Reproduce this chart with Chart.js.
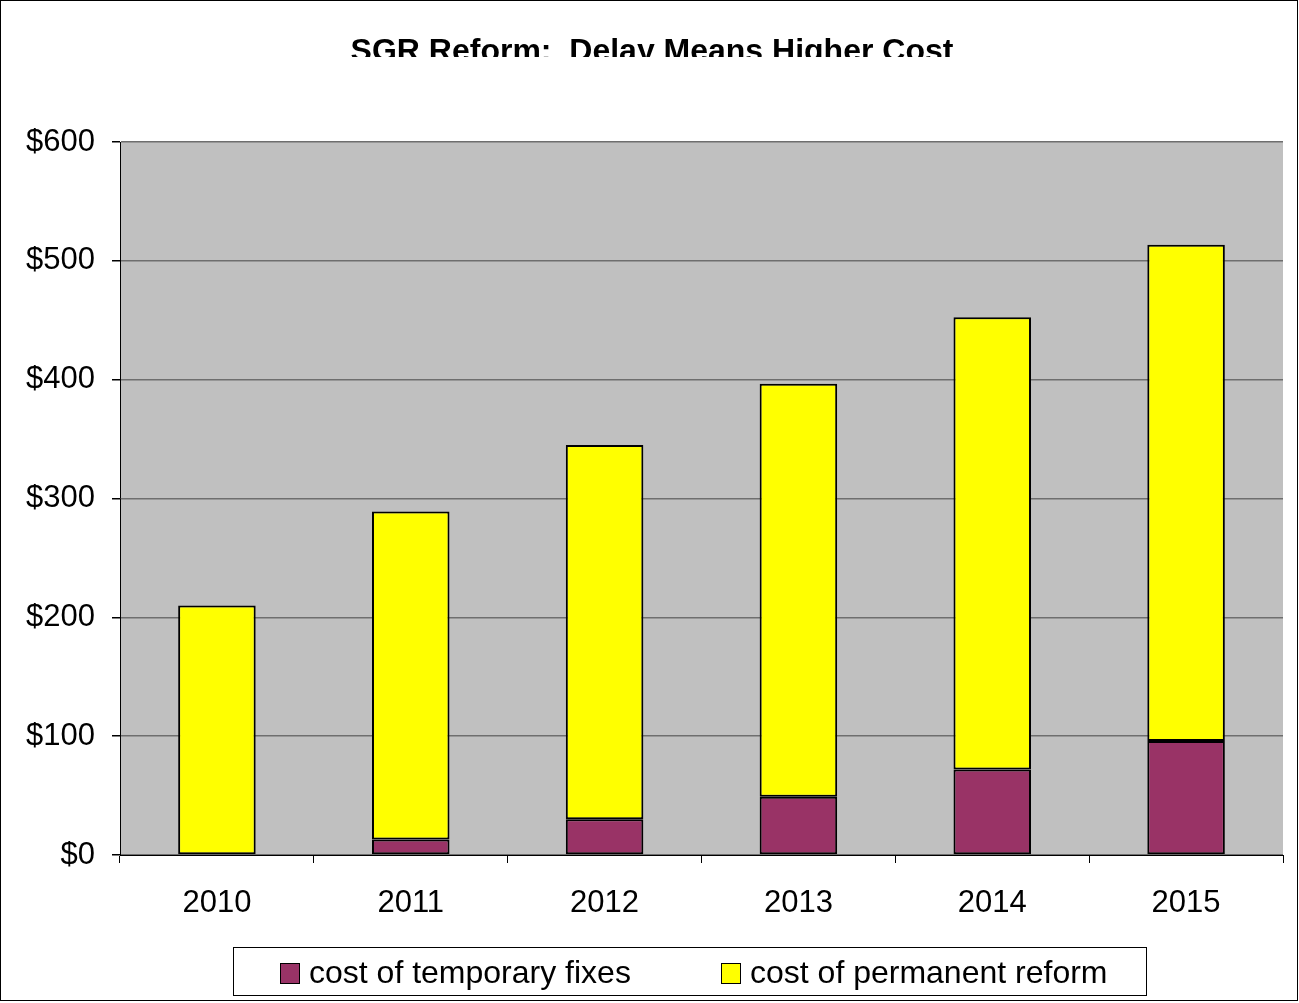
<!DOCTYPE html>
<html>
<head>
<meta charset="utf-8">
<script src="https://cdn.jsdelivr.net/npm/chart.js@4"></script>
<style>
  html, body { margin: 0; padding: 0; background: #fff; }
  #wrap { width: 1299px; height: 1003px; position: relative; }
</style>
</head>
<body>
<div id="wrap"><canvas id="myChart" width="1299" height="1003"></canvas></div>
<script>
const years = ["2010", "2011", "2012", "2013", "2014", "2015"];
const temporaryFixes = [0, 13, 30, 49, 72, 96];
const permanentReform = [210, 276, 315, 347.5, 380.5, 417.5];
const yTicks = [0, 100, 200, 300, 400, 500, 600];
const titleText = "SGR Reform:  Delay Means Higher Cost";

const FONT = "'Liberation Sans', Arial, sans-serif";

// grey plot area, clipped title, outer frame and boxed legend
const decorPlugin = {
  id: "decor",
  beforeDraw(chart) {
    const { ctx, chartArea } = chart;
    ctx.save();
    ctx.fillStyle = "#c0c0c0";
    ctx.fillRect(chartArea.left, chartArea.top, chartArea.right - chartArea.left, chartArea.bottom - chartArea.top);
    ctx.restore();
  },
  afterDraw(chart) {
    const ctx = chart.ctx;
    ctx.save();
    // title, cut off at the bottom like the original
    ctx.beginPath();
    ctx.rect(0, 0, chart.width, 57);
    ctx.clip();
    ctx.fillStyle = "#000";
    ctx.font = "bold 32px " + FONT;
    ctx.textAlign = "center";
    ctx.textBaseline = "alphabetic";
    ctx.fillText(titleText, 652, 61);
    ctx.restore();

    ctx.save();
    ctx.strokeStyle = "#000";
    ctx.lineWidth = 1;
    ctx.strokeRect(0.5, 0.5, 1297, 1000);

    // legend
    ctx.strokeRect(233.5, 947.5, 913, 48);
    const itemX = [280, 721];
    ctx.font = "32px " + FONT;
    ctx.textBaseline = "middle";
    ctx.textAlign = "left";
    chart.data.datasets.forEach((ds, i) => {
      ctx.fillStyle = ds.backgroundColor;
      ctx.fillRect(itemX[i], 963, 19, 20);
      ctx.strokeStyle = "#000";
      ctx.strokeRect(itemX[i] + 0.5, 963.5, 19, 20);
      ctx.fillStyle = "#000";
      ctx.fillText(ds.label, itemX[i] + 29, 974);
    });
    ctx.restore();
  },
};

const ctx = document.getElementById("myChart").getContext("2d");

const myChart = new Chart(ctx, {
  type: "bar",
  data: {
    labels: years,
    datasets: [
      {
        label: "cost of temporary fixes",
        data: temporaryFixes,
        backgroundColor: "#993366",
        borderColor: "#000",
        borderWidth: 2,
        borderSkipped: false,
        barPercentage: 0.4,
        categoryPercentage: 1,
      },
      {
        label: "cost of permanent reform",
        data: permanentReform,
        backgroundColor: "#ffff00",
        borderColor: "#000",
        borderWidth: 2,
        borderSkipped: false,
        barPercentage: 0.4,
        categoryPercentage: 1,
      },
    ],
  },
  options: {
    responsive: false,
    animation: false,
    devicePixelRatio: 1,
    layout: {
      padding: { top: 142, right: 16, bottom: 0, left: 0 },
    },
    scales: {
      x: {
        stacked: true,
        afterFit: (scale) => { scale.height = 148; },
        grid: {
          display: true,
          offset: true,
          drawOnChartArea: false,
          color: "#000",
          tickColor: "#000",
          tickLength: 8,
        },
        border: { display: true, color: "#000", width: 1 },
        ticks: {
          color: "#000",
          padding: 22,
          font: { family: FONT, size: 31 },
        },
      },
      y: {
        stacked: true,
        min: 0,
        max: 600,
        afterFit: (scale) => { scale.width = 120; },
        afterBuildTicks: (scale) => {
          scale.ticks = yTicks.map((v) => ({ value: v }));
        },
        grid: {
          color: "#6e6e6e",
          lineWidth: 1.5,
          tickColor: "#000",
          tickLength: 8,
        },
        border: { display: true, color: "#000", width: 1 },
        ticks: {
          color: "#000",
          padding: 17,
          font: { family: FONT, size: 31 },
          callback: (value) => "$" + value,
        },
      },
    },
    plugins: {
      legend: { display: false },
      title: { display: false },
      tooltip: { enabled: false },
    },
  },
  plugins: [decorPlugin],
});
</script>
</body>
</html>
